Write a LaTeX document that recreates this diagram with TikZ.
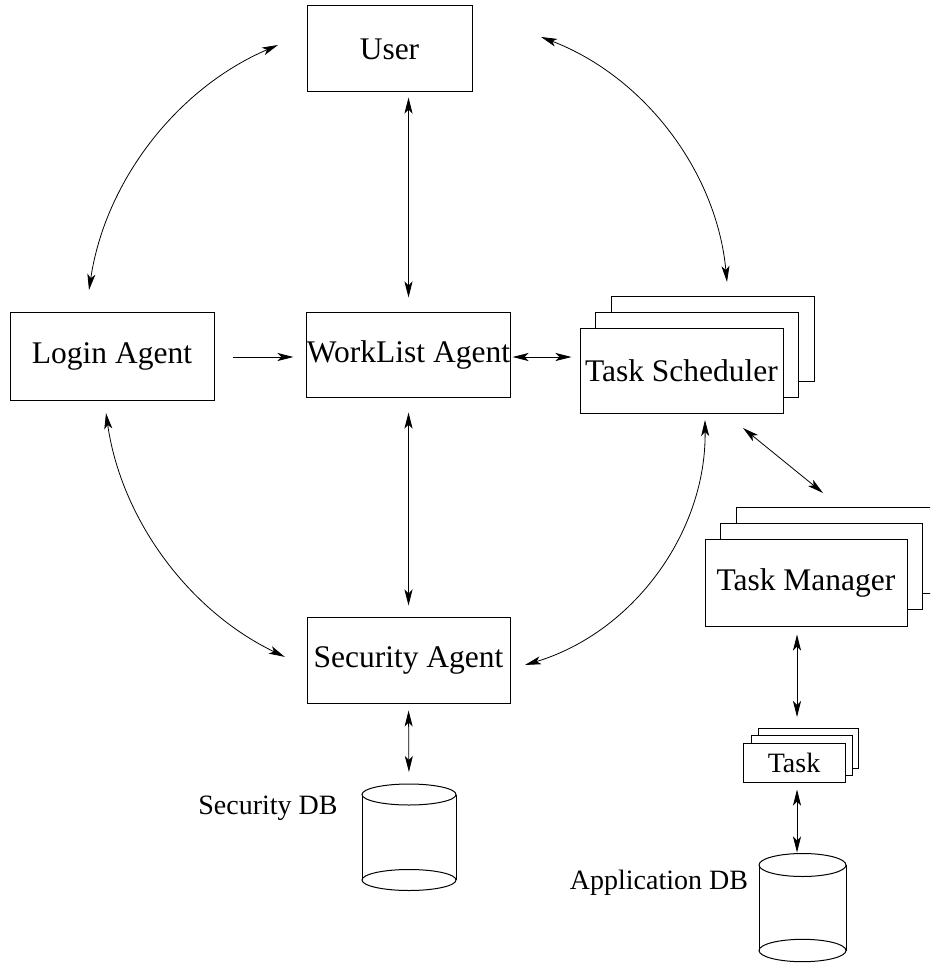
\documentclass[tikz,border=0pt]{standalone}
\usepackage{fontspec}
\setmainfont{Liberation Serif}
\usetikzlibrary{arrows.meta,calc}
\begin{document}
\begin{tikzpicture}[x=1pt,y=-1pt,
  box/.style={draw, line width=1pt, fill=white, inner sep=0pt, font=\fontsize{31.5}{36}\selectfont},
  smallbox/.style={draw, line width=1pt, fill=white, inner sep=0pt, font=\fontsize{28}{32}\selectfont},
  lbl/.style={inner sep=0pt, font=\fontsize{28}{32}\selectfont},
  tip/.style={Stealth[length=16pt,width=8pt,inset=4pt]},
  dbl/.style={line width=0.8pt, {Stealth[length=16pt,width=8pt,inset=4pt]}-{Stealth[length=16pt,width=8pt,inset=4pt]}},
  sgl/.style={line width=0.8pt, -{Stealth[length=16pt,width=8pt,inset=4pt]}},
  cyl/.style={line width=1pt}]
\useasboundingbox (0,0) rectangle (930,963);
\clip (0,0) rectangle (930,963);

% main boxes
\node[box, minimum width=165pt, minimum height=86pt] (user) at (389.5,49) {User};
\node[box, minimum width=204pt, minimum height=88pt] (login) at (112,356) {Login Agent};
\node[box, minimum width=203pt, minimum height=85pt] (wl) at (408.5,354.5) {WorkList Agent};
\node[box, minimum width=203pt, minimum height=86pt] (sec) at (408.5,660) {Security Agent};

% Task Scheduler stack
\node[box, minimum width=203pt, minimum height=85pt] (ts3) at (712.5,339) {};
\node[box, minimum width=203pt, minimum height=85pt] (ts2) at (697,355) {};
\node[box, minimum width=203pt, minimum height=85pt] (ts) at (681.5,370.5) {Task Scheduler};

% Task Manager stack
\node[box, minimum width=202pt, minimum height=86pt] (tm3) at (837,550.5) {};
\node[box, minimum width=202pt, minimum height=86pt] (tm2) at (821,566.5) {};
\node[box, minimum width=202pt, minimum height=87pt] (tm) at (806,582.5) {Task Manager};

% Task stack
\node[smallbox, minimum width=100pt, minimum height=40pt] (task3) at (808.5,748.5) {};
\node[smallbox, minimum width=101pt, minimum height=40pt] (task2) at (801.5,755.5) {};
\node[smallbox, minimum width=102pt, minimum height=39pt] (task) at (794,762.5) {Task};

% Security DB cylinder
\coordinate (secdb) at (409,784);
\draw[cyl] (362,794.5) -- (362,880);
\draw[cyl] (456,794.5) -- (456,880);
\draw[cyl] (409,794.5) ellipse [x radius=47pt, y radius=10.5pt];
\draw[cyl] (409,880) ellipse [x radius=47pt, y radius=10.5pt];
\node[lbl] (seclbl) at (268,808) {Security DB};

% Application DB cylinder
\coordinate (appdb) at (797,853.5);
\draw[cyl] (759,865) -- (759,950.5);
\draw[cyl] (846,865) -- (846,950.5);
\draw[cyl] (802.5,865) ellipse [x radius=43.5pt, y radius=11.5pt];
\draw[cyl] (802.5,950.5) ellipse [x radius=43.5pt, y radius=11.2pt];
\node[lbl] (applbl) at (659,883) {Application DB};

% straight connectors
\draw[dbl, shorten <=5pt, shorten >=14pt] (user.south -| wl.north) -- (wl.north);
\draw[dbl, shorten <=15pt, shorten >=11pt] (wl.south) -- (sec.north);
\draw[dbl, shorten <=7pt, shorten >=12pt] (sec.south) -- (secdb);
\draw[sgl, shorten <=18pt, shorten >=13pt] (login.east |- 0,357) -- (wl.west |- 0,357);
\draw[dbl, shorten <=2pt, shorten >=8pt] (wl.east |- 0,357) -- (ts.west |- 0,357);
\coordinate (tsa) at (743,428);
\coordinate (tma) at (823,493);
\draw[dbl] (tsa) -- (tma);
\draw[dbl, shorten <=8pt, shorten >=11pt] (tm.south -| 797,0) -- (task3.north -| 797,0);
\draw[dbl, shorten <=7pt, shorten >=1pt] (task.south -| 797,0) -- (appdb);

% curved connectors
\coordinate (c1) at (403.2,337);
\coordinate (c2) at (436.5,309.4);
\coordinate (c3) at (424.2,367.2);
\coordinate (c4) at (452.5,423.1);
\draw[dbl] ($(c1)+(113.2:317.7pt)$) arc[start angle=113.2, end angle=171.5, radius=317.7pt];
\draw[dbl] ($(c2)+(69.0:291.8pt)$) arc[start angle=69.0, end angle=5.4, radius=291.8pt];
\draw[dbl] ($(c3)+(188.2:321.5pt)$) arc[start angle=188.2, end angle=244.3, radius=321.5pt];
\draw[dbl] ($(c4)+(0.7:252.5pt)$) arc[start angle=0.7, end angle=-73.3, radius=252.5pt];
\end{tikzpicture}
\end{document}
